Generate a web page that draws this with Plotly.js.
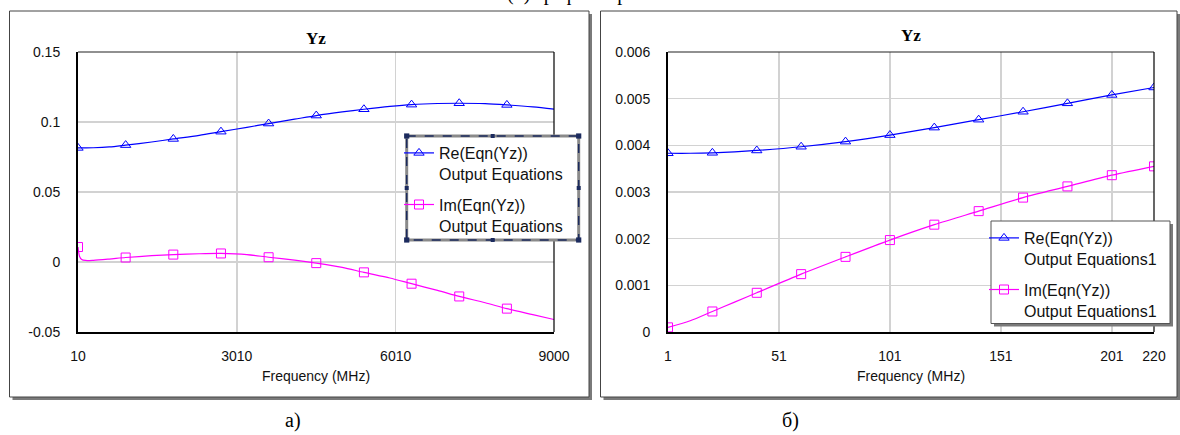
<!DOCTYPE html>
<html><head><meta charset="utf-8">
<script src="https://cdn.plot.ly/plotly-3.0.1.min.js"></script>
<style>html,body{margin:0;padding:0;background:#fff;} #chart{width:1180px;height:435px;}</style>
</head><body><div id="chart"></div>
<script>
// ---------- data ----------
const chartTitleA = 'Yz';
const chartTitleB = 'Yz';
const xAxisTitle = 'Frequency (MHz)';
const panelLabels = ['а)', 'б)'];
const topText = '(б) графіки пра';

const freqA = [10, 40, 80, 150, 300, 600, 910, 1400, 1810, 2300, 2710, 3200, 3610, 4100, 4510, 5000, 5410, 5900, 6310, 6800, 7210, 7700, 8110, 8600, 9000];
const reA = [0.0815, 0.0815, 0.0815, 0.0815, 0.0816, 0.0822, 0.0835, 0.0857, 0.0879, 0.0905, 0.0931, 0.0962, 0.0989, 0.1020, 0.1046, 0.1072, 0.1091, 0.1111, 0.1124, 0.1132, 0.1134, 0.1131, 0.1122, 0.1108, 0.1092];
const imA = [0.0107, 0.0040, 0.0018, 0.0011, 0.0012, 0.0021, 0.0032, 0.0045, 0.0053, 0.0059, 0.0061, 0.0053, 0.0034, 0.0013, -0.0008, -0.0038, -0.0074, -0.0114, -0.0155, -0.0203, -0.0246, -0.0291, -0.0333, -0.0376, -0.0411];
const markFreqA = [10, 910, 1810, 2710, 3610, 4510, 5410, 6310, 7210, 8110];

const freqB = [1, 11, 21, 31, 41, 61, 81, 101, 121, 141, 161, 181, 201, 220];
const reB = [0.00383, 0.00383, 0.00384, 0.00386, 0.00389, 0.00397, 0.00408, 0.00422, 0.00438, 0.00455, 0.00472, 0.00490, 0.00508, 0.00524];
const imB = [0.00010, 0.00024, 0.00044, 0.00064, 0.00084, 0.00124, 0.00161, 0.00197, 0.00230, 0.00259, 0.00288, 0.00312, 0.00336, 0.00355];
const markFreqB = [1, 21, 41, 61, 81, 101, 121, 141, 161, 181, 201, 220];

const xTicksA = [10, 3010, 6010, 9000];
const yTicksA = [-0.05, 0, 0.05, 0.1, 0.15];
const yTickTextA = ['-0.05', '0', '0.05', '0.1', '0.15'];
const xTicksB = [1, 51, 101, 151, 201, 220];
const yTicksB = [0, 0.001, 0.002, 0.003, 0.004, 0.005, 0.006];
const yTickTextB = ['0', '0.001', '0.002', '0.003', '0.004', '0.005', '0.006'];

const namesA = ['Re(Eqn(Yz))<br>Output Equations', 'Im(Eqn(Yz))<br>Output Equations'];
const namesB = ['Re(Eqn(Yz))<br>Output Equations1', 'Im(Eqn(Yz))<br>Output Equations1'];

// ---------- styles ----------
const BLUE = '#0000ff', MAG = '#ff00ff';
const W = 1180, H = 435;
const px = v => v / W, py = v => 1 - v / H;
const pick = (fs, vs, marks) => marks.map(m => vs[fs.indexOf(m)]);

function seriesTraces(fs, vs, marks, color, symbol, xa, ya) {
  return [
    {x: fs, y: vs, xaxis: xa, yaxis: ya, mode: 'lines', line: {color: color, width: 1.2, shape: 'spline', smoothing: 0.8}, showlegend: false, hoverinfo: 'skip'},
    {x: marks, y: pick(fs, vs, marks), xaxis: xa, yaxis: ya, mode: 'markers', marker: {symbol: symbol, size: 9, color: color, line: {color: color, width: 1}}, showlegend: false, hoverinfo: 'skip'}
  ];
}
function legendTrace(name, color, symbol, xa, ya, lg, grp) {
  return {x: [null], y: [null], xaxis: xa, yaxis: ya, name: name, legend: lg, legendgroup: grp,
    mode: 'lines+markers', line: {color: color, width: 1.2}, marker: {symbol: symbol, size: 9, color: color, line: {color: color, width: 1}}, showlegend: true};
}

const data = [
  ...seriesTraces(freqA, reA, markFreqA, BLUE, 'triangle-up-open', 'x', 'y'),
  ...seriesTraces(freqA, imA, markFreqA, MAG, 'square-open', 'x', 'y'),
  ...seriesTraces(freqB, reB, markFreqB, BLUE, 'triangle-up-open', 'x2', 'y2'),
  ...seriesTraces(freqB, imB, markFreqB, MAG, 'square-open', 'x2', 'y2'),
  legendTrace(namesA[0], BLUE, 'triangle-up-open', 'x', 'y', 'legend', 'a1'),
  legendTrace(namesA[1], MAG, 'square-open', 'x', 'y', 'legend', 'a2'),
  legendTrace(namesB[0], BLUE, 'triangle-up-open', 'x2', 'y2', 'legend2', 'b1'),
  legendTrace(namesB[1], MAG, 'square-open', 'x2', 'y2', 'legend2', 'b2')
];

const FONT = 'Liberation Sans, Arial, sans-serif';
const SERIF = 'Liberation Serif, Times New Roman, serif';
function xAx(dom, rng, ticks, anchor) {
  return {domain: dom, range: rng, tickvals: ticks, ticktext: ticks.map(String), anchor: anchor,
    showgrid: true, gridcolor: '#d2d2d2', gridwidth: 1.5, zeroline: false, showline: true, linecolor: '#000', linewidth: 2,
    ticks: '', ticklabelstandoff: 10, tickfont: {size: 14, family: FONT, color: '#111'},
    title: {text: xAxisTitle, font: {size: 14, family: FONT, color: '#111'}, standoff: 8}, fixedrange: true};
}
function yAx(dom, rng, ticks, text, anchor) {
  return {domain: dom, range: rng, tickvals: ticks, ticktext: text, anchor: anchor,
    showgrid: true, gridcolor: '#d2d2d2', gridwidth: 1.5, zeroline: false, showline: true, linecolor: '#000', linewidth: 2,
    ticks: '', ticklabelstandoff: 13, tickfont: {size: 14, family: FONT, color: '#111'}, fixedrange: true};
}

const shapes = [];
// outer frames with shadows
[[9.5, 589, 11, 397], [600.5, 1177, 11, 397]].forEach(f => {
  shapes.push({type: 'rect', xref: 'paper', yref: 'paper', x0: px(f[0] + 3), x1: px(f[1] + 3), y0: py(f[2] + 3), y1: py(f[3] + 3), fillcolor: '#7a7a7a', line: {width: 0}, layer: 'below'});
  shapes.push({type: 'rect', xref: 'paper', yref: 'paper', x0: px(f[0]), x1: px(f[1]), y0: py(f[2]), y1: py(f[3]), fillcolor: '#fff', line: {color: '#444', width: 1}, layer: 'below'});
});
// top & right plot borders
[['x domain', 'y domain'], ['x2 domain', 'y2 domain']].forEach(r => {
  shapes.push({type: 'line', xref: r[0], yref: r[1], x0: 0, x1: 1, y0: 1, y1: 1, line: {color: '#222', width: 1.2}, layer: 'above'});
  shapes.push({type: 'line', xref: r[0], yref: r[1], x0: 1, x1: 1, y0: 0, y1: 1, line: {color: '#000', width: 1.2}, layer: 'above'});
});
// left legend box (selected, dashed with handles)
const LB = [406.7, 578.7, 136, 240];
shapes.push({type: 'rect', xref: 'paper', yref: 'paper', x0: px(LB[0]), x1: px(LB[1]), y0: py(LB[2]), y1: py(LB[3]), fillcolor: '#fff', line: {color: '#8a8a8a', width: 3}, layer: 'above'});
shapes.push({type: 'rect', xref: 'paper', yref: 'paper', x0: px(LB[0]), x1: px(LB[1]), y0: py(LB[2]), y1: py(LB[3]), fillcolor: 'rgba(0,0,0,0)', line: {color: '#1c2b5e', width: 1.5, dash: 'dash'}, layer: 'above'});
const hx = [LB[0], (LB[0] + LB[1]) / 2, LB[1]], hy = [LB[2], (LB[2] + LB[3]) / 2, LB[3]];
hx.forEach((x, i) => hy.forEach((y, j) => {
  if (i === 1 && j === 1) return;
  const s = (i !== 1 && j !== 1) ? 2.6 : 2;
  shapes.push({type: 'rect', xref: 'paper', yref: 'paper', x0: px(x - s), x1: px(x + s), y0: py(y - s), y1: py(y + s), fillcolor: '#1c2b5e', line: {width: 0}, layer: 'above'});
}));
// right legend box with shadow
const RB = [991, 1170, 221, 323.5];
shapes.push({type: 'rect', xref: 'paper', yref: 'paper', x0: px(RB[0] + 3), x1: px(RB[1] + 3), y0: py(RB[2] + 3), y1: py(RB[3] + 3), fillcolor: '#7a7a7a', line: {width: 0}, layer: 'above'});
shapes.push({type: 'rect', xref: 'paper', yref: 'paper', x0: px(RB[0]), x1: px(RB[1]), y0: py(RB[2]), y1: py(RB[3]), fillcolor: '#fff', line: {color: '#555', width: 1}, layer: 'above'});

const annotations = [
  {text: '<b>' + chartTitleA + '</b>', xref: 'paper', yref: 'paper', x: px(316), y: py(38), showarrow: false, xanchor: 'center', yanchor: 'middle', font: {family: SERIF, size: 17, color: '#000'}},
  {text: '<b>' + chartTitleB + '</b>', xref: 'paper', yref: 'paper', x: px(911), y: py(36), showarrow: false, xanchor: 'center', yanchor: 'middle', font: {family: SERIF, size: 17, color: '#000'}},
  {text: panelLabels[0], xref: 'paper', yref: 'paper', x: px(293), y: py(420), showarrow: false, xanchor: 'center', yanchor: 'middle', font: {family: SERIF, size: 20, color: '#000'}},
  {text: panelLabels[1], xref: 'paper', yref: 'paper', x: px(790), y: py(420), showarrow: false, xanchor: 'center', yanchor: 'middle', font: {family: SERIF, size: 20, color: '#000'}},
  {text: topText, xref: 'paper', yref: 'paper', x: px(505), y: py(-6), showarrow: false, xanchor: 'left', yanchor: 'middle', font: {family: SERIF, size: 20, color: '#000'}}
];

const legStyle = {xanchor: 'left', yanchor: 'top', bgcolor: 'rgba(0,0,0,0)', borderwidth: 0, valign: 'top', tracegroupgap: 7,
  font: {family: FONT, size: 16, color: '#111'}};

const layout = {
  width: W, height: H, margin: {l: 0, r: 0, t: 0, b: 0, autoexpand: false},
  paper_bgcolor: '#fff', plot_bgcolor: 'rgba(0,0,0,0)',
  font: {family: FONT, size: 14, color: '#111'},
  xaxis: xAx([px(78), px(554)], [10, 9000], xTicksA, 'y'),
  yaxis: yAx([py(332), py(52)], [-0.05, 0.15], yTicksA, yTickTextA, 'x'),
  xaxis2: xAx([px(668), px(1154)], [1, 220], xTicksB, 'y2'),
  yaxis2: yAx([py(332), py(52)], [0, 0.006], yTicksB, yTickTextB, 'x2'),
  legend: Object.assign({x: px(399), y: py(136)}, legStyle),
  legend2: Object.assign({x: px(984), y: py(221)}, legStyle),
  shapes: shapes, annotations: annotations, hovermode: false
};

Plotly.newPlot('chart', data, layout, {displayModeBar: false, staticPlot: true});
</script></body></html>
